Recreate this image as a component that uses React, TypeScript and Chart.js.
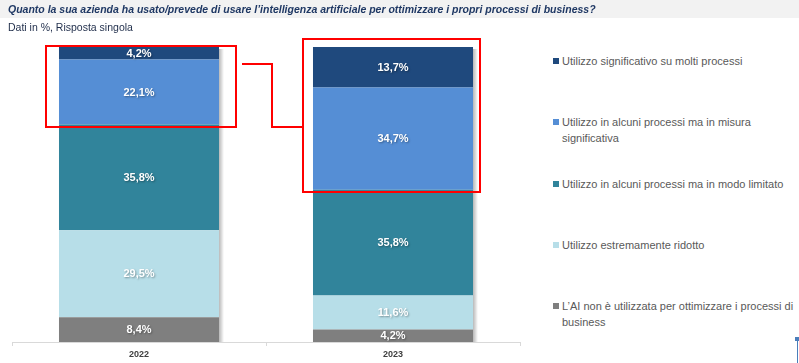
import React, { useEffect, useRef } from "react";
import { Chart, registerables } from "chart.js";

Chart.register(...registerables);

const titleText =
  "Quanto la sua azienda ha usato/prevede di usare l’intelligenza artificiale per ottimizzare i propri processi di business?";
const subtitleText = "Dati in %, Risposta singola";

const categories = ["2022", "2023"];
const seriesNames = [
  "L’AI non è utilizzata per ottimizzare i processi di business",
  "Utilizzo estremamente ridotto",
  "Utilizzo in alcuni processi ma in modo limitato",
  "Utilizzo in alcuni processi ma in misura significativa",
  "Utilizzo significativo su molti processi",
];
const notUsed = [8.4, 4.2];
const veryLimited = [29.5, 11.6];
const limited = [35.8, 35.8];
const significant = [22.1, 34.7];
const extensive = [4.2, 13.7];
const seriesColors = ["#7F7F7F", "#B7DEE8", "#31849B", "#558ED5", "#1F497D"];

// legend, top to bottom, with the line breaks of the reference
const legendLines = [
  ["Utilizzo significativo su molti processi"],
  ["Utilizzo in alcuni processi ma in misura", "significativa"],
  ["Utilizzo in alcuni processi ma in modo limitato"],
  ["Utilizzo estremamente ridotto"],
  ["L’AI non è utilizzata per ottimizzare i processi di", "business"],
];
const legendColors = ["#1F497D", "#558ED5", "#31849B", "#B7DEE8", "#7F7F7F"];

const FONT = "'Liberation Sans', Arial, sans-serif";

const fmt = (v: number) => v.toFixed(1).replace(".", ",") + "%";

const shadowPlugin = {
  id: "barShadow",
  beforeDatasetsDraw(chart: any) {
    const { ctx, scales } = chart;
    const y = scales.y;
    const meta = chart.getDatasetMeta(0);
    ctx.save();
    meta.data.forEach((el: any) => {
      const right = el.x + el.width / 2;
      const top = y.getPixelForValue(100);
      const bottom = y.getPixelForValue(0);
      const g = ctx.createLinearGradient(right, 0, right + 5, 0);
      g.addColorStop(0, "rgba(0,0,0,0.28)");
      g.addColorStop(1, "rgba(0,0,0,0)");
      ctx.fillStyle = g;
      ctx.fillRect(right, top + 2, 5, bottom - top - 2);
    });
    ctx.restore();
  },
};

const labelPlugin = {
  id: "segLabels",
  afterDatasetsDraw(chart: any) {
    const { ctx } = chart;
    ctx.save();
    ctx.font = `bold 11px ${FONT}`;
    ctx.textAlign = "center";
    ctx.textBaseline = "middle";
    ctx.fillStyle = "#FFFFFF";
    ctx.shadowColor = "rgba(0,0,0,0.35)";
    ctx.shadowBlur = 2;
    ctx.shadowOffsetX = 1;
    ctx.shadowOffsetY = 1;
    chart.data.datasets.forEach((ds: any, di: number) => {
      const meta = chart.getDatasetMeta(di);
      meta.data.forEach((el: any, i: number) => {
        const v = ds.data[i];
        const cy = (el.y + el.base) / 2;
        ctx.fillText(fmt(v), el.x, cy + 0.5);
      });
    });
    ctx.restore();
  },
};

const highlightPlugin = {
  id: "highlight",
  afterDraw(chart: any) {
    const { ctx, scales } = chart;
    const x = scales.x;
    const y = scales.y;
    const meta = chart.getDatasetMeta(0);
    const half = meta.data[0].width / 2;
    const x0 = x.getPixelForValue(0);
    const x1 = x.getPixelForValue(1);
    const top = y.getPixelForValue(100);
    const b1 = y.getPixelForValue(100 - extensive[0] - significant[0]);
    const b2 = y.getPixelForValue(100 - extensive[1] - significant[1]);
    const r1 = {
      l: Math.round(x0 - half - 13),
      r: Math.round(x0 + half + 17),
      t: Math.round(top - 1),
      b: Math.round(b1 + 2.5),
    };
    const r2 = {
      l: Math.round(x1 - half - 10),
      r: Math.round(x1 + half + 7),
      t: Math.round(top - 8),
      b: Math.round(b2 + 2),
    };
    ctx.save();
    ctx.strokeStyle = "#FF0000";
    ctx.lineWidth = 2;
    ctx.strokeRect(r1.l, r1.t, r1.r - r1.l, r1.b - r1.t);
    ctx.strokeRect(r2.l, r2.t, r2.r - r2.l, r2.b - r2.t);
    const midX = Math.round((x0 + x1) / 2 + 6);
    const yLine = Math.round(y.getPixelForValue(100 - extensive[0]) + 4.5);
    ctx.beginPath();
    ctx.moveTo(r1.r + 6, yLine);
    ctx.lineTo(midX, yLine);
    ctx.lineTo(midX, r1.b);
    ctx.lineTo(r2.l, r1.b);
    ctx.stroke();
    ctx.restore();
  },
};

function StackedChart() {
  const ref = useRef<HTMLCanvasElement | null>(null);
  useEffect(() => {
    if (!ref.current) return;
    const seriesData = [notUsed, veryLimited, limited, significant, extensive];
    const chart = new Chart(ref.current, {
      type: "bar",
      data: {
        labels: categories,
        datasets: seriesData.map((d, i) => ({
          label: seriesNames[i],
          data: d,
          backgroundColor: seriesColors[i],
          borderWidth: 0,
          categoryPercentage: 1,
          barPercentage: 0.63,
        })),
      },
      options: {
        responsive: false,
        animation: false,
        events: [],
        layout: { padding: { left: 12, right: 20, top: 47, bottom: 0 } },
        plugins: {
          legend: { display: false },
          tooltip: { enabled: false },
          title: { display: false },
        },
        scales: {
          x: {
            stacked: true,
            grid: {
              display: true,
              drawOnChartArea: false,
              drawTicks: true,
              tickLength: 4,
              color: "#D9D9D9",
            },
            border: { display: true, color: "#D9D9D9", width: 1 },
            ticks: {
              padding: 3,
              color: "#404040",
              font: { family: FONT, size: 9, weight: "bold" },
              maxRotation: 0,
            },
            afterFit: (scale: any) => {
              scale.height = 21;
            },
          },
          y: {
            stacked: true,
            display: false,
            min: 0,
            max: 100,
          },
        },
      },
      plugins: [shadowPlugin, labelPlugin, highlightPlugin],
    });
    return () => chart.destroy();
  }, []);
  return (
    <canvas
      ref={ref}
      width={540}
      height={363}
      style={{ position: "absolute", left: 0, top: 0, width: 540, height: 363 }}
    />
  );
}

export default function App() {
  const firstLine = 61;
  const step = 61.25;
  return (
    <div
      style={{
        position: "absolute",
        left: 0,
        top: 0,
        width: 799,
        height: 363,
        overflow: "hidden",
        background: "#FFFFFF",
        fontFamily: FONT,
      }}
    >
      <StackedChart />
      <div
        style={{
          position: "absolute",
          left: 0,
          top: 0,
          width: 799,
          height: 18,
          background: "#F2F2F2",
        }}
      />
      <div
        style={{
          position: "absolute",
          left: 8,
          top: 0,
          height: 18,
          lineHeight: "18px",
          fontSize: 10.5,
          fontWeight: "bold",
          fontStyle: "italic",
          color: "#1F3864",
          whiteSpace: "nowrap",
        }}
      >
        {titleText}
      </div>
      <div
        style={{
          position: "absolute",
          left: 8,
          top: 19,
          lineHeight: "16px",
          fontSize: 10.5,
          color: "#1F2D4A",
          whiteSpace: "nowrap",
        }}
      >
        {subtitleText}
      </div>
      {legendLines.map((lines, i) => (
        <div
          key={i}
          style={{
            position: "absolute",
            left: 553,
            top: Math.round(firstLine + step * i - 8),
            display: "flex",
            alignItems: "flex-start",
          }}
        >
          <div
            style={{
              width: 6,
              height: 6,
              marginTop: 5,
              marginRight: 3,
              background: legendColors[i],
            }}
          />
          <div
            style={{
              fontSize: 11,
              lineHeight: "16px",
              color: "#595959",
              whiteSpace: "nowrap",
            }}
          >
            {lines.map((l, j) => (
              <div key={j}>{l}</div>
            ))}
          </div>
        </div>
      ))}
      <div
        style={{
          position: "absolute",
          left: 795,
          top: 337,
          width: 4,
          height: 4,
          background: "#4A7EBB",
        }}
      />
      <div
        style={{
          position: "absolute",
          left: 797,
          top: 340,
          width: 1,
          height: 23,
          background: "#4A7EBB",
        }}
      />
    </div>
  );
}
